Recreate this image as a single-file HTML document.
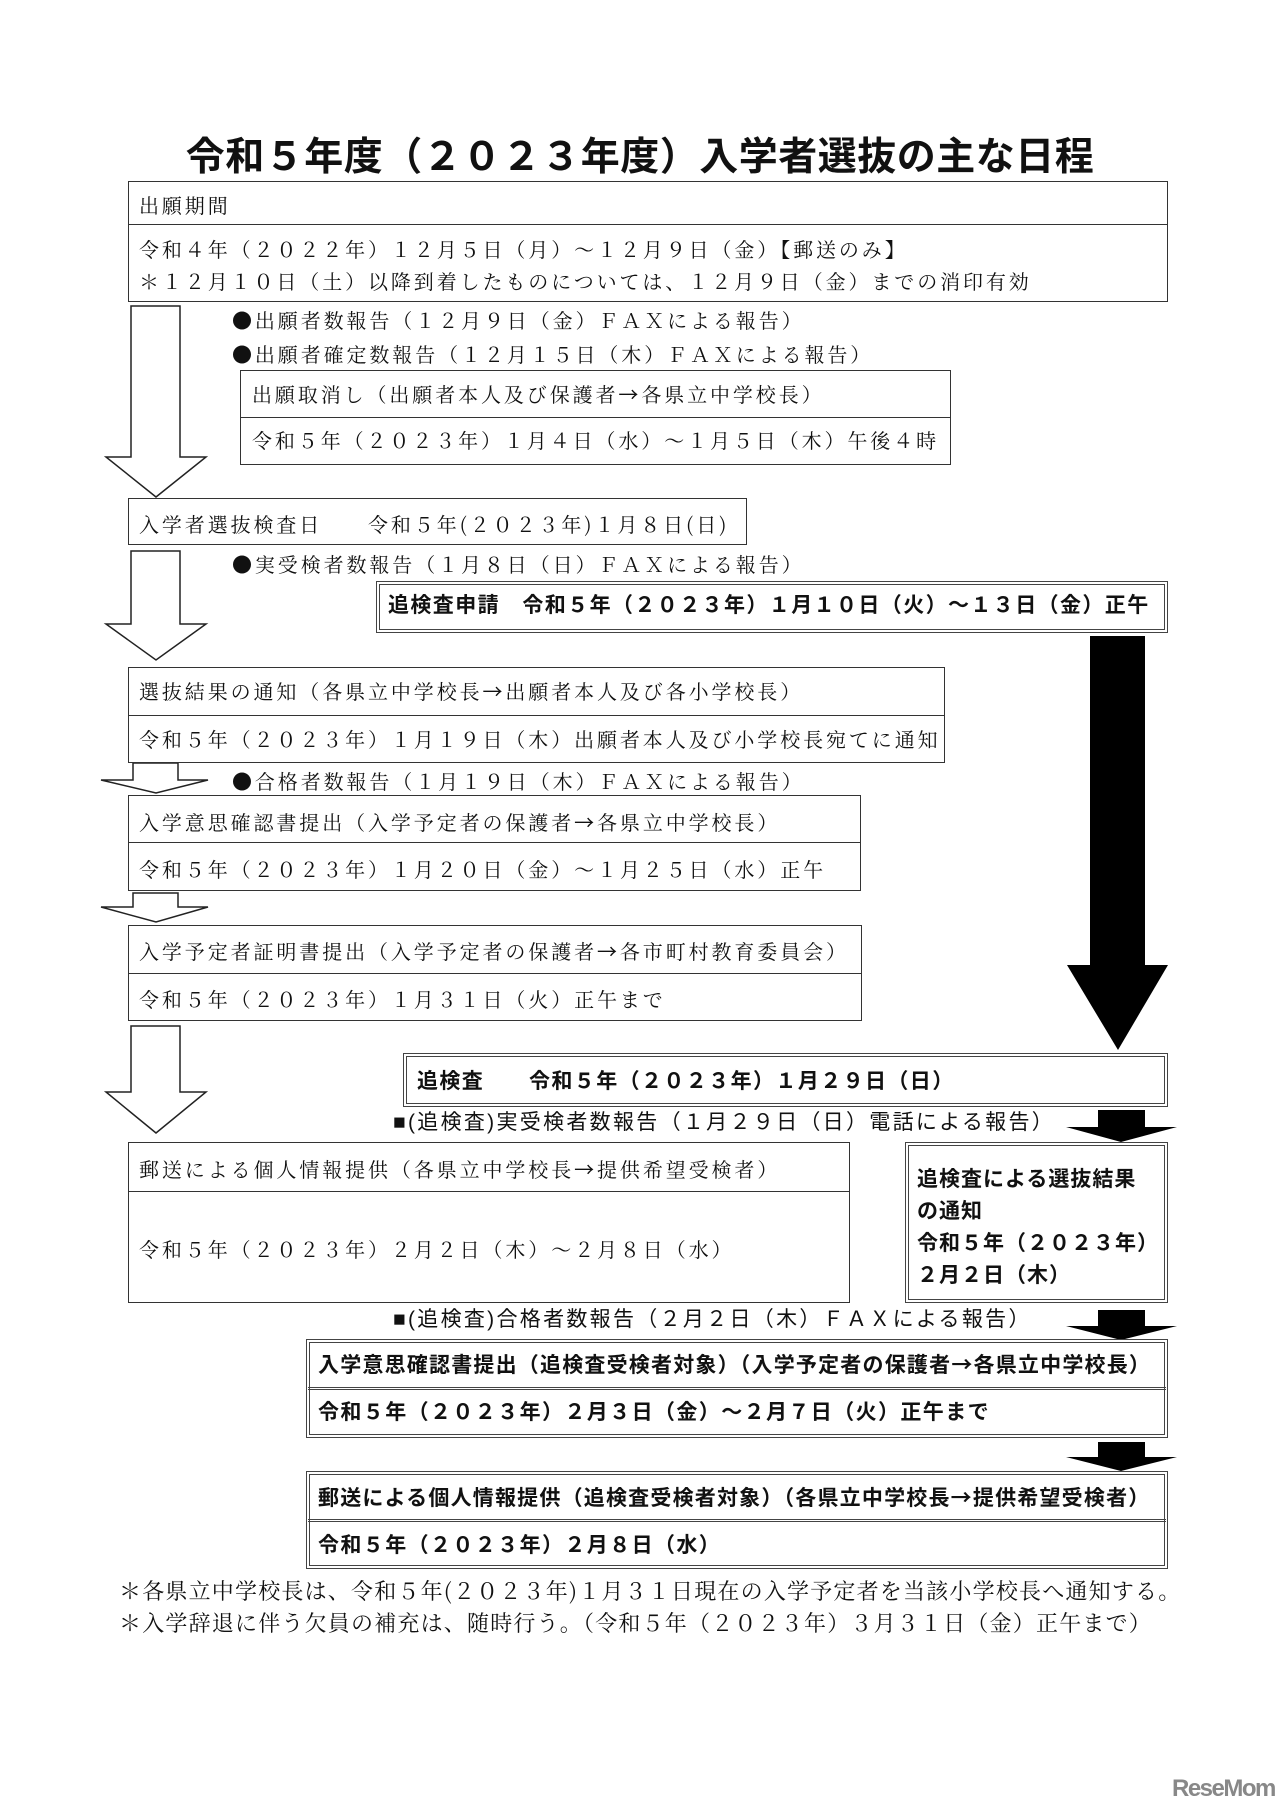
<!DOCTYPE html>
<html><head><meta charset="utf-8"><style>
html,body{margin:0;padding:0;background:#fff;}
body{width:1280px;height:1810px;position:relative;overflow:hidden;}
.m{font-family:"Noto Serif CJK SC","Liberation Serif",serif;letter-spacing:2.9px;}
.g{font-family:"Liberation Sans","Noto Sans CJK JP",sans-serif;}
.t{position:absolute;white-space:nowrap;font-size:20px;line-height:24px;color:#111;}
.b{position:absolute;border:1.5px solid #333;box-sizing:border-box;background:#fff;}
.d{position:absolute;border:4px double #444;box-sizing:border-box;background:#fff;}
.h{position:absolute;height:0;border-top:1.5px solid #333;}
.bold{font-weight:bold;font-size:21px;letter-spacing:1.4px;}
.c{font-family:"Noto Sans CJK JP",sans-serif;}
</style></head><body>
<svg width="1280" height="1810" style="position:absolute;left:0;top:0">
<g fill="#fff" stroke="#222" stroke-width="1.5">
<polygon points="131,306 180,306 180,457 206,457 156,497 106,457 131,457"/>
<polygon points="131,551 180,551 180,624 206,624 156,660 106,624 131,624"/>
<polygon points="133,763 178,763 178,780 208,780 156,793 101,780 133,780"/>
<polygon points="133,893 178,893 178,907 208,907 156,922 101,907 133,907"/>
<polygon points="131,1026 180,1026 180,1092 206,1092 156,1133 106,1092 131,1092"/>
</g>
<g fill="#000">
<polygon points="1090,636 1145,636 1145,965 1168,965 1118,1050 1067,965 1090,965"/>
<polygon points="1098,1110 1145,1110 1145,1127 1177,1127 1121,1142 1066,1127 1098,1127"/>
<polygon points="1098,1310 1145,1310 1145,1326 1177,1326 1121,1340 1066,1326 1098,1326"/>
<polygon points="1098,1442 1145,1442 1145,1457 1177,1457 1121,1471 1066,1457 1098,1457"/>
</g>
</svg>

<div class="t g" style="left:0;width:1280px;text-align:center;top:135px;font-size:39px;line-height:46px;font-weight:bold;letter-spacing:0.5px;">令和５年度（２０２３年度）入学者選抜の主な日程</div>

<div class="b" style="left:128px;top:181px;width:1040px;height:121px;"></div>
<div class="h" style="left:128px;top:224px;width:1040px;"></div>
<div class="t m" style="left:139px;top:193px;">出願期間</div>
<div class="t m" style="left:139px;top:237px;">令和４年（２０２２年）１２月５日（月）～１２月９日（金）【郵送のみ】</div>
<div class="t m" style="left:139px;top:269px;">＊１２月１０日（土）以降到着したものについては、１２月９日（金）までの消印有効</div>

<div class="t m" style="left:232px;top:308px;"><span class="c">●</span>出願者数報告（１２月９日（金）ＦＡＸによる報告）</div>
<div class="t m" style="left:232px;top:342px;"><span class="c">●</span>出願者確定数報告（１２月１５日（木）ＦＡＸによる報告）</div>

<div class="b" style="left:240px;top:370px;width:711px;height:95px;"></div>
<div class="h" style="left:240px;top:417px;width:711px;"></div>
<div class="t m" style="left:252px;top:382px;">出願取消し（出願者本人及び保護者<span class="c">→</span>各県立中学校長）</div>
<div class="t m" style="left:252px;top:428px;">令和５年（２０２３年）１月４日（水）～１月５日（木）午後４時</div>

<div class="b" style="left:128px;top:498px;width:619px;height:47px;"></div>
<div class="t m" style="left:139px;top:512px;">入学者選抜検査日　　令和５年(２０２３年)１月８日(日)</div>

<div class="t m" style="left:232px;top:552px;"><span class="c">●</span>実受検者数報告（１月８日（日）ＦＡＸによる報告）</div>

<div class="d" style="left:376px;top:581px;width:792px;height:52px;"></div>
<div class="t g bold" style="left:388px;top:594px;">追検査申請　令和５年（２０２３年）１月１０日（火）～１３日（金）正午</div>

<div class="b" style="left:128px;top:667px;width:817px;height:96px;"></div>
<div class="h" style="left:128px;top:715px;width:817px;"></div>
<div class="t m" style="left:139px;top:679px;">選抜結果の通知（各県立中学校長<span class="c">→</span>出願者本人及び各小学校長）</div>
<div class="t m" style="left:139px;top:727px;">令和５年（２０２３年）１月１９日（木）出願者本人及び小学校長宛てに通知</div>

<div class="t m" style="left:232px;top:769px;"><span class="c">●</span>合格者数報告（１月１９日（木）ＦＡＸによる報告）</div>

<div class="b" style="left:128px;top:795px;width:733px;height:96px;"></div>
<div class="h" style="left:128px;top:842px;width:733px;"></div>
<div class="t m" style="left:139px;top:810px;">入学意思確認書提出（入学予定者の保護者<span class="c">→</span>各県立中学校長）</div>
<div class="t m" style="left:139px;top:857px;">令和５年（２０２３年）１月２０日（金）～１月２５日（水）正午</div>

<div class="b" style="left:128px;top:925px;width:734px;height:96px;"></div>
<div class="h" style="left:128px;top:973px;width:734px;"></div>
<div class="t m" style="left:139px;top:939px;">入学予定者証明書提出（入学予定者の保護者<span class="c">→</span>各市町村教育委員会）</div>
<div class="t m" style="left:139px;top:987px;">令和５年（２０２３年）１月３１日（火）正午まで</div>

<div class="d" style="left:403px;top:1053px;width:765px;height:54px;"></div>
<div class="t g bold" style="left:417px;top:1070px;">追検査　　令和５年（２０２３年）１月２９日（日）</div>

<div class="t g" style="left:393px;top:1111px;font-size:21px;letter-spacing:2.3px;">■(追検査)実受検者数報告（１月２９日（日）電話による報告）</div>

<div class="b" style="left:128px;top:1142px;width:722px;height:161px;"></div>
<div class="h" style="left:128px;top:1191px;width:722px;"></div>
<div class="t m" style="left:139px;top:1157px;">郵送による個人情報提供（各県立中学校長<span class="c">→</span>提供希望受検者）</div>
<div class="t m" style="left:139px;top:1237px;">令和５年（２０２３年）２月２日（木）～２月８日（水）</div>

<div class="d" style="left:905px;top:1142px;width:263px;height:161px;"></div>
<div class="t g" style="left:917px;top:1164px;font-size:21px;line-height:32px;font-weight:bold;letter-spacing:1px;">追検査による選抜結果<br>の通知<br>令和５年（２０２３年）<br>２月２日（木）</div>

<div class="t g" style="left:393px;top:1308px;font-size:21px;letter-spacing:2.3px;">■(追検査)合格者数報告（２月２日（木）ＦＡＸによる報告）</div>

<div class="d" style="left:306px;top:1339px;width:862px;height:99px;"></div>
<div class="h" style="left:308px;top:1387px;width:858px;border-top:3px double #444;"></div>
<div class="t g bold" style="left:318px;top:1352px;letter-spacing:1.2px;">入学意思確認書提出（追検査受検者対象）（入学予定者の保護者<span class="c">→</span>各県立中学校長）</div>
<div class="t g bold" style="left:318px;top:1401px;">令和５年（２０２３年）２月３日（金）～２月７日（火）正午まで</div>

<div class="d" style="left:306px;top:1471px;width:862px;height:98px;"></div>
<div class="h" style="left:308px;top:1519px;width:858px;border-top:3px double #444;"></div>
<div class="t g bold" style="left:318px;top:1485px;letter-spacing:1.2px;">郵送による個人情報提供（追検査受検者対象）（各県立中学校長<span class="c">→</span>提供希望受検者）</div>
<div class="t g bold" style="left:318px;top:1534px;">令和５年（２０２３年）２月８日（水）</div>

<div class="t m" style="left:119px;top:1578px;font-size:22px;line-height:26px;letter-spacing:1.2px;">＊各県立中学校長は、令和５年(２０２３年)１月３１日現在の入学予定者を当該小学校長へ通知する。</div>
<div class="t m" style="left:119px;top:1610px;font-size:22px;line-height:26px;letter-spacing:1.2px;">＊入学辞退に伴う欠員の補充は、随時行う。（令和５年（２０２３年）３月３１日（金）正午まで）</div>

<div class="t g" style="left:1172px;top:1774px;font-size:24px;line-height:30px;font-weight:bold;color:#888;letter-spacing:-1.5px;">ReseMom</div>
</body></html>
